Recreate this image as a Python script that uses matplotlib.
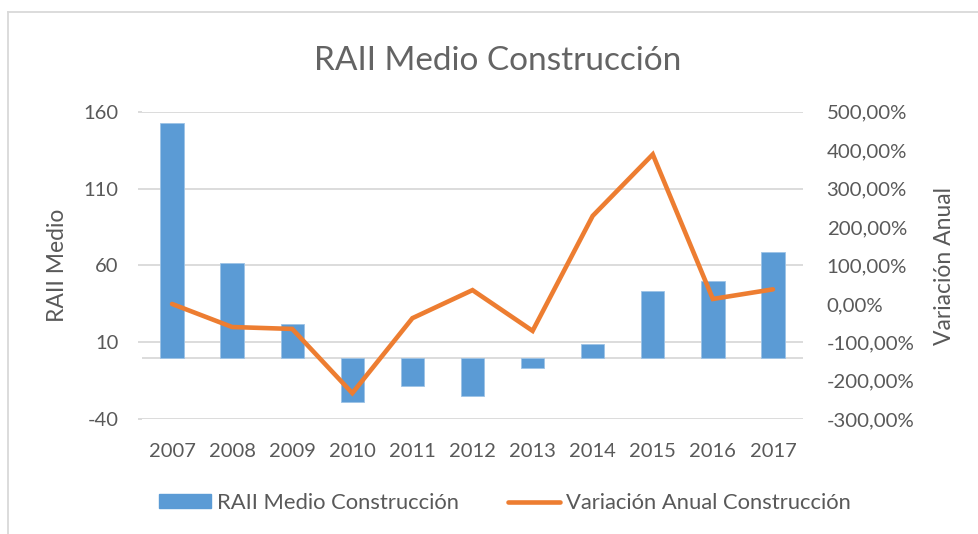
import numpy as np
import matplotlib.pyplot as plt
from matplotlib.ticker import FuncFormatter
from matplotlib.lines import Line2D

# data
years = ['2007', '2008', '2009', '2010', '2011', '2012', '2013', '2014', '2015', '2016', '2017']
raii_medio = [152.8, 61.6, 21.7, -29.0, -18.2, -25.1, -6.9, 8.7, 43.6, 49.9, 68.7]
variacion = [0.0, -60.0, -65.0, -232.0, -37.0, 36.0, -70.0, 229.0, 389.0, 13.0, 38.0]

left_ticks = [-40, 10, 60, 110, 160]
right_ticks = [-300, -200, -100, 0, 100, 200, 300, 400, 500]

blue = '#5B9BD5'
orange = '#ED7D31'
grid_c = '#D9D9D9'
text_c = '#595959'
font = 'Lato'

plt.rcParams['font.family'] = [font, 'DejaVu Sans']
plt.rcParams['axes.unicode_minus'] = False

fig = plt.figure(figsize=(9.79, 5.34), dpi=100)
ax = fig.add_axes([142 / 979, 1 - 419.3 / 534, (803 - 142) / 979, (419.3 - 111.7) / 534])
ax2 = ax.twinx()

x = np.arange(len(years))

# gridlines (left axis scale)
for t in left_ticks:
    ax.axhline(t, color=grid_c, lw=1.3, zorder=0)
ax.axhline(0, color=grid_c, lw=1.3, zorder=0)

ax.bar(x, raii_medio, width=0.39, color=blue, edgecolor='#9DC3E6', linewidth=0.6, zorder=2)
ax2.plot(x, variacion, color=orange, lw=3.3, solid_capstyle='round', solid_joinstyle='miter', zorder=3)

ax.set_xlim(-0.5, len(years) - 0.5)
ax.set_ylim(-40, 160)
ax.set_yticks(left_ticks)
ax2.set_ylim(-300, 500)
ax2.set_yticks(right_ticks)
ax2.yaxis.set_major_formatter(FuncFormatter(lambda v, p: f'{v:.2f}'.replace('.', ',') + '%'))

ax.set_xticks(x)
ax.set_xticklabels(years)

for a in (ax, ax2):
    for s in a.spines.values():
        s.set_visible(False)

ax.tick_params(axis='x', length=0, pad=17, labelsize=14.5, labelcolor=text_c)
ax.tick_params(axis='y', length=3, color=grid_c, width=1.3, pad=14, labelsize=14.5, labelcolor=text_c)
ax2.tick_params(axis='y', length=0, pad=17, labelsize=14.7, labelcolor=text_c)
ax.set_zorder(ax2.get_zorder() - 1)
ax2.patch.set_visible(False)

fig.text(58 / 979, 1 - 265 / 534, 'RAII Medio', rotation=90, ha='center', va='center',
         fontsize=16.5, color=text_c)
fig.text(945 / 979, 1 - 266 / 534, 'Variación Anual', rotation=90, ha='center', va='center',
         fontsize=16.5, color=text_c)
fig.text(498 / 979, 1 - 70 / 534, 'RAII Medio Construcción', ha='center', va='baseline',
         fontsize=24, color='#646464')

# outer chart border (cropped at right and bottom)
fig.add_artist(Line2D([8 / 979, 8 / 979], [0, 1 - 12 / 534], color=grid_c, lw=1.3))
fig.add_artist(Line2D([8 / 979, 1], [1 - 12 / 534, 1 - 12 / 534], color=grid_c, lw=1.3))

handles = [plt.Rectangle((0, 0), 1, 1, color=blue),
           Line2D([0], [0], color=orange, lw=3.3, solid_capstyle='round')]
fig.legend(handles, ['RAII Medio Construcción', 'Variación Anual Construcción'],
           loc='center', bbox_to_anchor=(505 / 979, 1 - 503 / 534), ncol=2, frameon=False,
           fontsize=15.8, labelcolor=text_c, handlelength=2.37, handleheight=0.6,
           handletextpad=0.27, columnspacing=2.2)

fig.savefig('out.png', dpi=100, facecolor='white')
